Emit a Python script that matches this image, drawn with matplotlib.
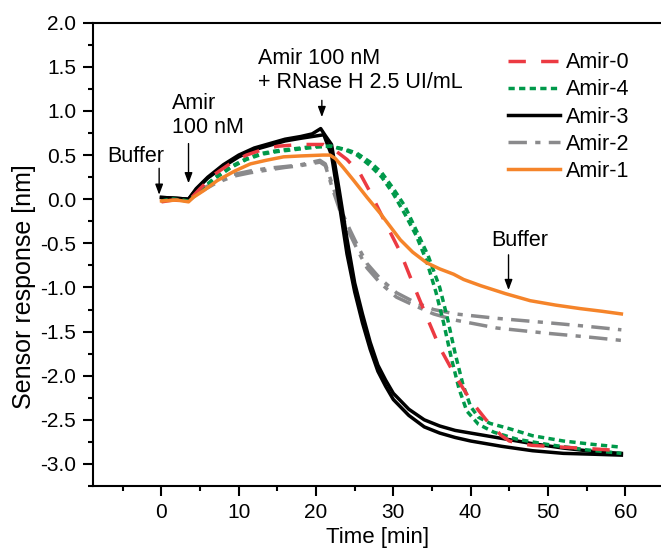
import numpy as np
import matplotlib
matplotlib.use("Agg")
import matplotlib.pyplot as plt
from matplotlib.ticker import MultipleLocator

plt.rcParams['font.family'] = ['Liberation Sans', 'DejaVu Sans']

# Amir-0 (red, long dashes)
t_amir0 = [0, 1.5, 3.5, 5, 7, 9, 11, 13, 15, 18, 21, 22.5, 24, 25.7, 27, 28.7,
           30.9, 32.5, 34.3, 36, 38, 40, 42, 44, 45, 46.5, 48, 52, 56, 59.5]
y_amir0 = [-0.03, -0.01, -0.02, 0.12, 0.29, 0.41, 0.50, 0.56, 0.60, 0.62, 0.62,
           0.55, 0.45, 0.29, 0.08, -0.22, -0.60, -0.95, -1.33, -1.68, -2.00,
           -2.28, -2.50, -2.68, -2.74, -2.77, -2.79, -2.81, -2.83, -2.85]

# Amir-4 (green, short dashes), two replicates
t_amir4_a = [0, 1.5, 3.5, 5, 7, 9, 11, 13, 15, 18, 20, 22, 24, 25.3, 27, 28.5,
             30, 31.5, 33, 34.3, 35.5, 36.5, 37.5, 38.5, 39.5, 41, 43, 46, 50,
             55, 59.5]
y_amir4_a = [-0.02, 0.0, -0.02, 0.10, 0.25, 0.37, 0.46, 0.52, 0.55, 0.58, 0.60,
             0.60, 0.55, 0.50, 0.38, 0.25, 0.06, -0.17, -0.42, -0.70, -1.05,
             -1.40, -1.80, -2.15, -2.40, -2.55, -2.64, -2.72, -2.78, -2.84, -2.88]
t_amir4_b = [0, 1.5, 3.5, 5, 7, 9, 11, 13, 15, 18, 20, 22, 24, 25.3, 27, 28.5,
             30, 31.5, 33, 34.5, 36, 37, 38, 39, 40, 41, 42.5, 45, 48, 52, 56,
             59.5]
y_amir4_b = [-0.02, 0.0, -0.02, 0.09, 0.24, 0.36, 0.45, 0.51, 0.54, 0.57, 0.59,
             0.60, 0.56, 0.52, 0.42, 0.30, 0.12, -0.08, -0.36, -0.64, -1.00,
             -1.35, -1.75, -2.10, -2.35, -2.47, -2.54, -2.60, -2.68, -2.74,
             -2.78, -2.81]

# Amir-3 (black, solid), two replicates
t_amir3_a = [0, 2, 3.5, 4.5, 6, 8, 10, 12, 14, 16, 18, 19.5, 20.6, 21.2, 22, 23,
             24, 25, 26, 27, 28, 29, 30, 32, 34, 36, 38, 40, 44, 48, 52, 56, 59.5]
y_amir3_a = [0.02, 0.01, 0.0, 0.12, 0.25, 0.39, 0.50, 0.58, 0.63, 0.68, 0.71,
             0.74, 0.80, 0.72, 0.62, 0.10, -0.45, -0.95, -1.30, -1.62, -1.88,
             -2.05, -2.20, -2.38, -2.50, -2.57, -2.62, -2.65, -2.71, -2.77,
             -2.82, -2.86, -2.88]
t_amir3_b = [0, 2, 3.5, 4.5, 6, 8, 10, 12, 14, 16, 18, 19.5, 21, 22, 23, 24, 25,
             26, 27, 28, 29, 30, 32, 34, 36, 38, 40, 44, 48, 52, 56, 59.5]
y_amir3_b = [0.02, 0.01, 0.0, 0.11, 0.24, 0.37, 0.48, 0.56, 0.61, 0.66, 0.69,
             0.71, 0.73, 0.50, -0.05, -0.62, -1.05, -1.40, -1.70, -1.95, -2.12,
             -2.27, -2.45, -2.58, -2.65, -2.70, -2.74, -2.80, -2.85, -2.88,
             -2.89, -2.90]

# Amir-2 (grey, dash-dot), two replicates
t_amir2_a = [0, 1.5, 3.5, 5, 7, 9.3, 11.5, 13.7, 16, 18, 20.5, 21.2, 22.2, 23.2,
             24.4, 25.5, 26.6, 28.3, 30.4, 32.6, 35.2, 38, 43.4, 50, 55, 59.5]
y_amir2_a = [-0.02, 0.0, -0.02, 0.10, 0.20, 0.28, 0.32, 0.35, 0.37, 0.39, 0.44,
             0.40, 0.14, -0.12, -0.35, -0.55, -0.73, -0.90, -1.06, -1.16, -1.25,
             -1.30, -1.35, -1.40, -1.44, -1.48]
t_amir2_b = [0, 1.5, 3.5, 5, 7, 9.3, 11.5, 13.7, 16, 18, 20.5, 21.2, 22.2, 23.2,
             24.4, 25.5, 26.6, 28.3, 30.4, 32.6, 35.2, 38, 43.4, 50, 55, 59.5]
y_amir2_b = [-0.02, 0.0, -0.02, 0.08, 0.18, 0.26, 0.30, 0.33, 0.36, 0.38, 0.42,
             0.38, 0.10, -0.16, -0.40, -0.60, -0.78, -0.95, -1.11, -1.20, -1.30,
             -1.37, -1.46, -1.52, -1.56, -1.60]

# Amir-1 (orange, solid)
t_amir1 = [0, 2, 3.5, 4.1, 5.5, 7.2, 9.5, 11.5, 13.5, 15.8, 18, 20.9, 21.8,
           22.5, 23.5, 24.8, 26.6, 28.3, 30.9, 32.5, 34.3, 36, 37.8, 39.1, 41.3,
           44.5, 47.7, 51, 54.2, 57, 59.5]
y_amir1 = [-0.02, -0.01, -0.03, 0.02, 0.10, 0.21, 0.32, 0.40, 0.44, 0.48, 0.49,
           0.50, 0.50, 0.46, 0.36, 0.22, 0.02, -0.16, -0.46, -0.60, -0.72, -0.79,
           -0.85, -0.91, -0.98, -1.07, -1.15, -1.20, -1.24, -1.27, -1.30]

# annotations: (text, text x, text y, arrow x, arrow tail y, arrow tip y, ha)
notes = [
    ("Buffer", -3.3, 0.48, -0.3, 0.35, 0.05, 'center'),
    ("Amir\n100 nM", 1.4, 0.95, 3.5, 0.63, 0.18, 'left'),
    ("Amir 100 nM\n+ RNase H 2.5 UI/mL", 12.5, 1.46, 20.75, 1.12, 0.93, 'left'),
    ("Buffer", 46.4, -0.47, 44.9, -0.63, -1.03, 'center'),
]

fig = plt.figure(figsize=(6.61, 5.48), dpi=100)
ax = fig.add_axes([0.1402, 0.1131, 0.863, 0.8455])

lw = 2.5
red, green, grey, orange = '#ec3a42', '#00994a', '#8a8a8c', '#f5842a'
d_red = (5, 4.4)
d_green = (1.8, 1.25)
d_grey = (5.3, 2.4, 1.5, 2.4)

ax.plot(t_amir2_a, y_amir2_a, color=grey, lw=lw, dashes=d_grey, zorder=2)
ax.plot(t_amir2_b, y_amir2_b, color=grey, lw=lw, dashes=d_grey, zorder=2)
ax.plot(t_amir3_a, y_amir3_a, color='black', lw=lw, zorder=2.1)
ax.plot(t_amir3_b, y_amir3_b, color='black', lw=lw, zorder=2.1)
ax.plot(t_amir4_a, y_amir4_a, color=green, lw=lw, dashes=d_green, zorder=2.2)
ax.plot(t_amir4_b, y_amir4_b, color=green, lw=lw, dashes=d_green, zorder=2.2)
ax.plot(t_amir0, y_amir0, color=red, lw=lw, dashes=d_red, zorder=2.3)
ax.plot(t_amir1, y_amir1, color=orange, lw=lw, zorder=2.4)

# legend handles in the reference order
h0, = ax.plot([], [], color=red, lw=lw, dashes=d_red, label='Amir-0')
h4, = ax.plot([], [], color=green, lw=lw, dashes=d_green, label='Amir-4')
h3, = ax.plot([], [], color='black', lw=lw, label='Amir-3')
h2, = ax.plot([], [], color=grey, lw=lw, dashes=d_grey, label='Amir-2')
h1, = ax.plot([], [], color=orange, lw=lw, label='Amir-1')
ax.legend(handles=[h0, h4, h3, h2, h1], loc='upper left',
          bbox_to_anchor=(0.7685, 0.905), bbox_transform=fig.transFigure,
          frameon=False, fontsize=15.5, handlelength=2.4, handletextpad=0.28,
          labelspacing=0.29, borderpad=0, borderaxespad=0)

for txt, tx, ty, ax_x, y_tail, y_tip, ha in notes:
    ax.text(tx, ty, txt, fontsize=15.5, ha=ha, va='center', linespacing=1.15)
    ax.annotate('', xy=(ax_x, y_tip), xytext=(ax_x, y_tail),
                arrowprops=dict(arrowstyle='-|>,head_length=0.4,head_width=0.15',
                                color='black', lw=1.0, shrinkA=0, shrinkB=0,
                                mutation_scale=15.5))

ax.set_xlim(-8.9, 64.9)
ax.set_ylim(-3.25, 2.0)
ax.xaxis.set_major_locator(MultipleLocator(10))
ax.xaxis.set_minor_locator(MultipleLocator(5))
ax.yaxis.set_major_locator(MultipleLocator(0.5))
ax.yaxis.set_minor_locator(MultipleLocator(0.25))
ax.yaxis.set_major_formatter(plt.FuncFormatter(lambda v, p: f'{v:.1f}'))
ax.tick_params(which='major', direction='out', length=7, width=1.5, labelsize=15)
ax.tick_params(which='minor', direction='out', length=3.5, width=1.5)
ax.tick_params(axis='x', which='major', pad=5)
ax.tick_params(axis='y', which='major', pad=5)
for s in ax.spines.values():
    s.set_linewidth(1.5)

ax.set_xlabel('Time [min]', fontsize=16, labelpad=4)
ax.set_ylabel('Sensor response [nm]', fontsize=18)
ax.yaxis.set_label_coords(-0.10, 0.43)

fig.savefig('out.png', dpi=100)
